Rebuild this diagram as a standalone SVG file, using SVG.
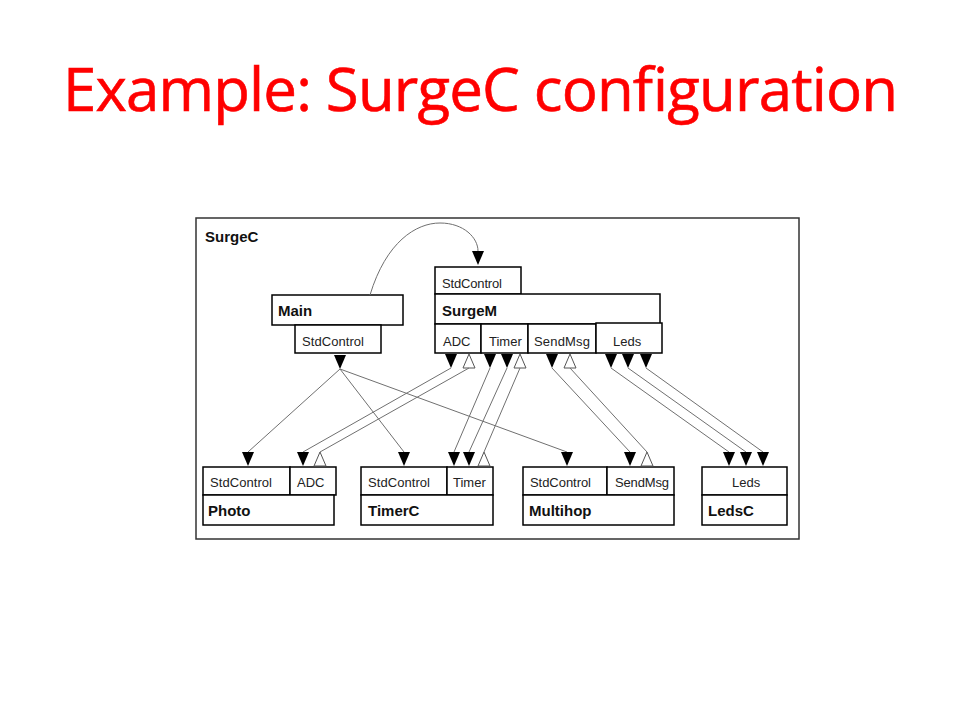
<svg xmlns="http://www.w3.org/2000/svg" xmlns:xlink="http://www.w3.org/1999/xlink" width="960" height="720" viewBox="0 0 960 720">
<style>
  .title { font-family: "Comic Sans MS", "Open Sans", "DejaVu Sans", sans-serif; font-size: 60px; fill: #ff0000; stroke: #ff0000; stroke-width: 0.6; }
  .box { fill: #ffffff; stroke: #000000; stroke-width: 1.5; }
  .frame { fill: #ffffff; stroke: #333333; stroke-width: 1.5; }
  .name { font-family: "Liberation Sans", Arial, sans-serif; font-weight: bold; font-size: 15px; fill: #111111; }
  .port { font-family: "Liberation Sans", Arial, sans-serif; font-size: 13px; fill: #222222; }
  .wire { fill: none; stroke: #707070; stroke-width: 1; }
  .fd { fill: #000000; }
  .ou { fill: #ffffff; stroke: #555555; stroke-width: 1; }
</style>
<defs>
  <path id="fdown" class="fd" d="M-6,0 L6,0 L0,14 Z"/>
  <path id="oup" class="ou" d="M-6,14 L6,14 L0,0 Z"/>
</defs>
<rect width="960" height="720" fill="#ffffff"/>
<text class="title" x="63" y="111" textLength="835" lengthAdjust="spacing">Example: SurgeC configuration</text>

<g id="SurgeC">
  <rect class="frame" x="196" y="218" width="603" height="321"/>
  <text class="name" x="205" y="242" font-size="14">SurgeC</text>
</g>

<g id="Main">
  <rect class="box" x="272" y="295" width="131" height="30"/>
  <text class="name" x="278" y="316">Main</text>
  <rect class="box" x="295" y="325" width="86" height="28"/>
  <text class="port" x="302" y="346" textLength="62">StdControl</text>
</g>

<g id="SurgeM">
  <rect class="box" x="435" y="267" width="86" height="27"/>
  <text class="port" x="442" y="288" textLength="60">StdControl</text>
  <rect class="box" x="435" y="294" width="225" height="30"/>
  <text class="name" x="442" y="316">SurgeM</text>
  <rect class="box" x="435" y="324" width="46" height="29"/>
  <text class="port" x="443" y="346">ADC</text>
  <rect class="box" x="481" y="324" width="47" height="29"/>
  <text class="port" x="489" y="346">Timer</text>
  <rect class="box" x="528" y="324" width="68" height="29"/>
  <text class="port" x="534" y="346" textLength="56">SendMsg</text>
  <rect class="box" x="596" y="323" width="66" height="30"/>
  <text class="port" x="613" y="346">Leds</text>
</g>

<g id="Photo">
  <rect class="box" x="203" y="467" width="87" height="28"/>
  <text class="port" x="210" y="487" textLength="62">StdControl</text>
  <rect class="box" x="290" y="467" width="46" height="28"/>
  <text class="port" x="297" y="487">ADC</text>
  <rect class="box" x="203" y="495" width="131" height="30"/>
  <text class="name" x="208" y="516">Photo</text>
</g>

<g id="TimerC">
  <rect class="box" x="361" y="467" width="86" height="28"/>
  <text class="port" x="368" y="487" textLength="62">StdControl</text>
  <rect class="box" x="447" y="467" width="46" height="28"/>
  <text class="port" x="453" y="487">Timer</text>
  <rect class="box" x="361" y="495" width="132" height="30"/>
  <text class="name" x="368" y="516">TimerC</text>
</g>

<g id="Multihop">
  <rect class="box" x="523" y="467" width="84" height="28"/>
  <text class="port" x="530" y="487" textLength="61">StdControl</text>
  <rect class="box" x="607" y="467" width="67" height="28"/>
  <text class="port" x="615" y="487" textLength="54">SendMsg</text>
  <rect class="box" x="523" y="495" width="151" height="30"/>
  <text class="name" x="529" y="516">Multihop</text>
</g>

<g id="LedsC">
  <rect class="box" x="702" y="467" width="85" height="28"/>
  <text class="port" x="732" y="487">Leds</text>
  <rect class="box" x="702" y="495" width="85" height="30"/>
  <text class="name" x="708" y="516">LedsC</text>
</g>

<g id="connectors">
  <!-- Main.StdControl -> SurgeM.StdControl -->
  <path class="wire" d="M370,295 C386,242 416,223 440,223 C464,223 478,238 478,251"/>
  <use xlink:href="#fdown" x="478" y="251"/>

  <!-- Main.StdControl -> Photo/TimerC/Multihop StdControl -->
  <use xlink:href="#fdown" x="340" y="355"/>
  <line class="wire" x1="340" y1="369" x2="248" y2="452"/>
  <line class="wire" x1="340" y1="369" x2="404" y2="452"/>
  <line class="wire" x1="340" y1="369" x2="567" y2="452"/>
  <use xlink:href="#fdown" x="248" y="452"/>
  <use xlink:href="#fdown" x="404" y="452"/>
  <use xlink:href="#fdown" x="567" y="452"/>

  <!-- ADC -->
  <use xlink:href="#fdown" x="451" y="354"/>
  <use xlink:href="#oup" x="469" y="354"/>
  <line class="wire" x1="451" y1="368" x2="303" y2="452"/>
  <line class="wire" x1="469" y1="368" x2="320" y2="452"/>
  <use xlink:href="#fdown" x="303" y="452"/>
  <use xlink:href="#oup" x="320" y="452"/>

  <!-- Timer -->
  <use xlink:href="#fdown" x="490" y="354"/>
  <use xlink:href="#fdown" x="507" y="354"/>
  <use xlink:href="#oup" x="520" y="354"/>
  <line class="wire" x1="490" y1="368" x2="454" y2="452"/>
  <line class="wire" x1="507" y1="368" x2="469" y2="452"/>
  <line class="wire" x1="520" y1="368" x2="484" y2="452"/>
  <use xlink:href="#fdown" x="454" y="452"/>
  <use xlink:href="#fdown" x="469" y="452"/>
  <use xlink:href="#oup" x="484" y="452"/>

  <!-- SendMsg -->
  <use xlink:href="#fdown" x="552" y="354"/>
  <use xlink:href="#oup" x="570" y="354"/>
  <line class="wire" x1="552" y1="368" x2="630" y2="452"/>
  <line class="wire" x1="570" y1="368" x2="647" y2="452"/>
  <use xlink:href="#fdown" x="630" y="452"/>
  <use xlink:href="#oup" x="647" y="452"/>

  <!-- Leds -->
  <use xlink:href="#fdown" x="611" y="354"/>
  <use xlink:href="#fdown" x="628" y="354"/>
  <use xlink:href="#fdown" x="646" y="354"/>
  <line class="wire" x1="611" y1="368" x2="729" y2="452"/>
  <line class="wire" x1="628" y1="368" x2="746" y2="452"/>
  <line class="wire" x1="646" y1="368" x2="763" y2="452"/>
  <use xlink:href="#fdown" x="729" y="452"/>
  <use xlink:href="#fdown" x="746" y="452"/>
  <use xlink:href="#fdown" x="763" y="452"/>
</g>
</svg>
